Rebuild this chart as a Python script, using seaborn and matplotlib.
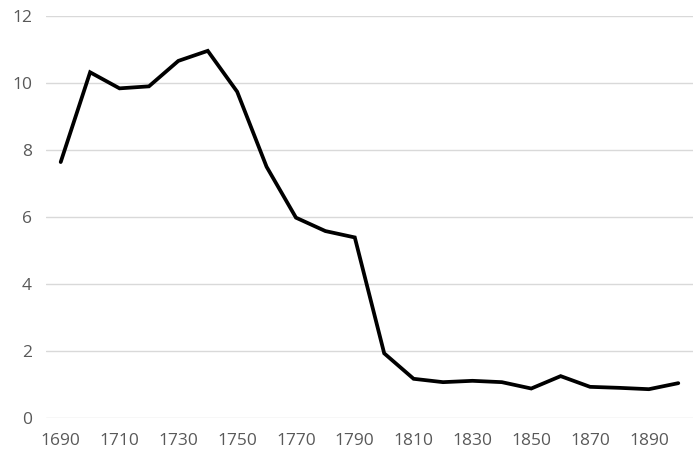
import matplotlib
matplotlib.use("Agg")
import matplotlib.pyplot as plt
import seaborn as sns
import pandas as pd

years = [1690, 1700, 1710, 1720, 1730, 1740, 1750, 1760, 1770, 1780, 1790,
         1800, 1810, 1820, 1830, 1840, 1850, 1860, 1870, 1880, 1890, 1900]
values = [7.64, 10.32, 9.84, 9.90, 10.66, 10.96, 9.74, 7.50, 5.98, 5.58, 5.39,
          1.93, 1.17, 1.07, 1.11, 1.07, 0.88, 1.25, 0.93, 0.90, 0.86, 1.04]
x_ticks = [1690, 1710, 1730, 1750, 1770, 1790, 1810, 1830, 1850, 1870, 1890]
y_ticks = [0, 2, 4, 6, 8, 10, 12]

sns.set_theme(style="white")
plt.rcParams["font.family"] = ["Open Sans", "DejaVu Sans"]

df = pd.DataFrame({"year": years, "value": values})

fig = plt.figure(figsize=(6.93, 4.51), dpi=100)
ax = fig.add_axes([46 / 693, 1 - 418 / 451, 1 - 46 / 693, (418 - 16) / 451])

sns.lineplot(data=df, x="year", y="value", ax=ax, color="black",
             linewidth=2.7, solid_joinstyle="miter")

ax.set_xlim(1685, 1905)
ax.set_ylim(0, 12)
ax.set_xticks(x_ticks)
ax.set_yticks(y_ticks)
ax.set_xlabel("")
ax.set_ylabel("")
ax.yaxis.grid(True, color="#d9d9d9", linewidth=1.0)
ax.xaxis.grid(False)
ax.set_axisbelow(True)
for s in ax.spines.values():
    s.set_visible(False)
ax.tick_params(axis="both", length=0, labelsize=12.5, labelcolor="#595959")
ax.tick_params(axis="y", pad=10)
ax.tick_params(axis="x", pad=11)

fig.savefig("out.png", dpi=100)
